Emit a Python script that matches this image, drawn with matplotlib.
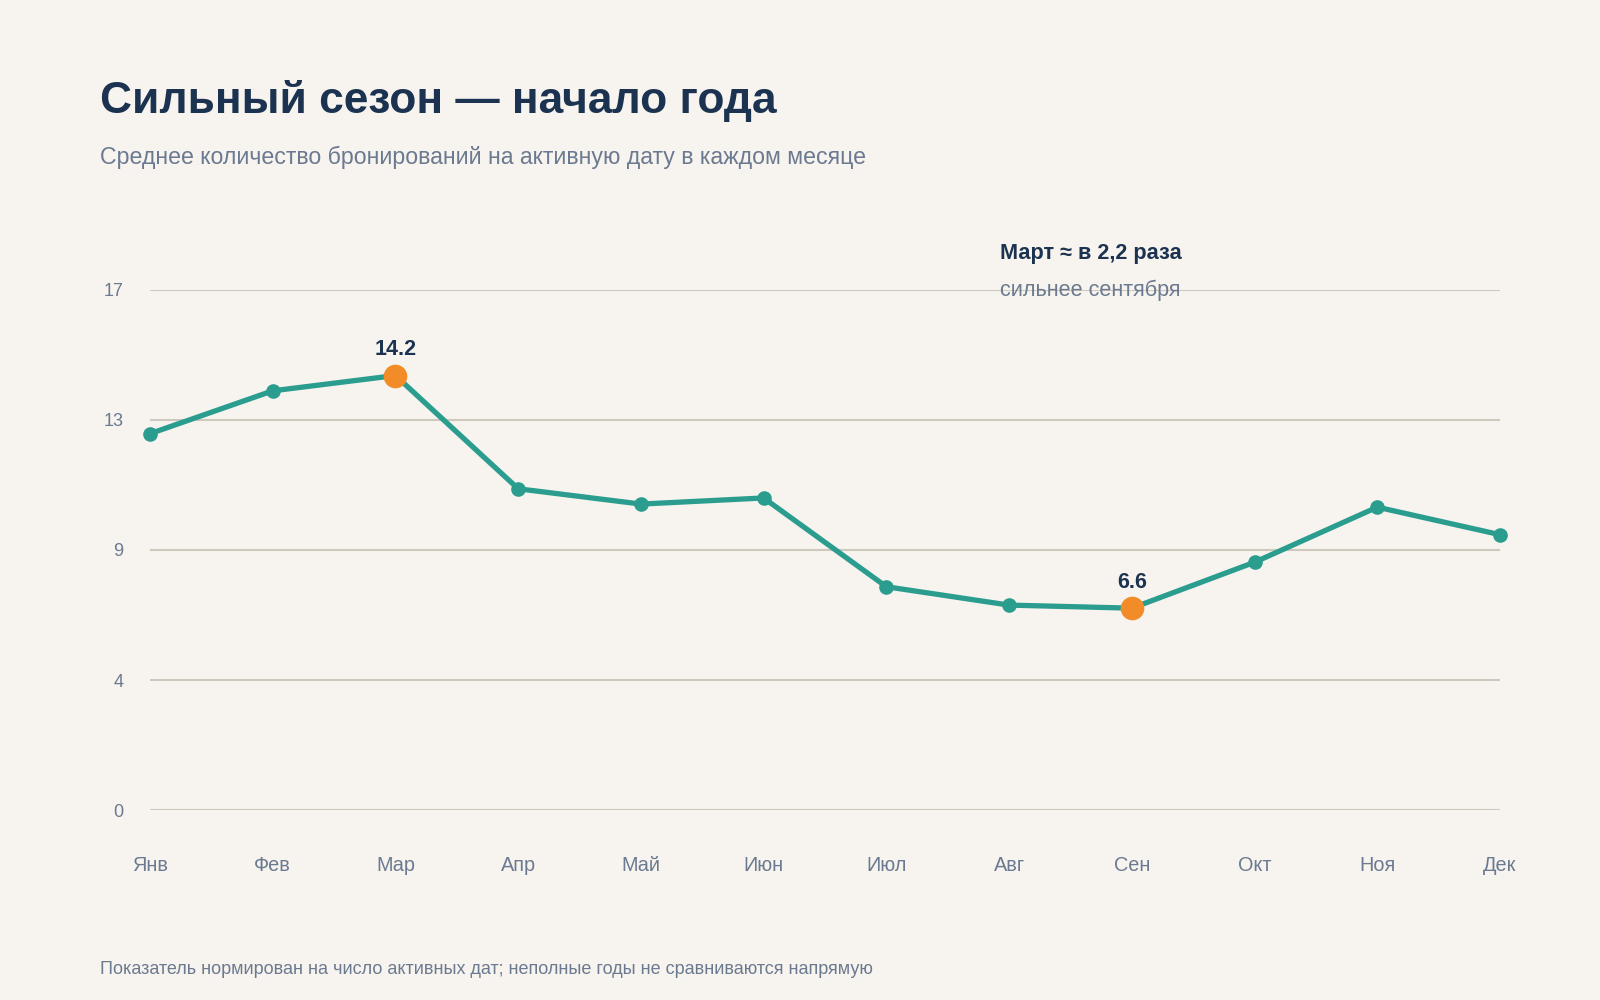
import matplotlib.pyplot as plt
import numpy as np

plt.rcParams['font.family'] = ['Liberation Sans', 'DejaVu Sans']

months = ["Янв", "Фев", "Мар", "Апр", "Май", "Июн", "Июл", "Авг", "Сен", "Окт", "Ноя", "Дек"]
bookings = [12.3, 13.7, 14.2, 10.5, 10.0, 10.2, 7.3, 6.7, 6.6, 8.1, 9.9, 9.0]
highlight = [2, 8]
y_max = 17
y_ticks = np.linspace(0, y_max, 5)

bg = "#F7F3EE"
navy = "#1B3350"
grey = "#6B7A90"
teal = "#2A9D8F"
orange = "#F28C28"

W, H = 1568, 980
fig = plt.figure(figsize=(16, 10), dpi=100, facecolor=bg)
ax = fig.add_axes([147 / W, (H - 794) / H, (1470 - 147) / W, (794 - 284) / H])
ax.set_facecolor(bg)

x = np.arange(len(months))
ax.plot(x, bookings, color=teal, lw=3.8, marker="o", ms=9.5, zorder=3, clip_on=False,
        solid_capstyle="round")
for i in highlight:
    ax.plot(x[i], bookings[i], "o", color=orange, ms=16, zorder=4, clip_on=False)
    ax.annotate(f"{bookings[i]:.1f}", (x[i], bookings[i]), xytext=(0, 11),
                textcoords="offset points", ha="center", va="bottom",
                fontsize=15.5, fontweight="bold", color=navy)

ax.set_xlim(0, len(months) - 1)
ax.set_ylim(0, y_max)
ax.set_yticks(y_ticks)
ax.set_yticklabels([f"{int(np.floor(v + 0.5))}" for v in y_ticks])
ax.set_xticks(x)
ax.set_xticklabels(months)
ax.grid(axis="y", color="#CFC8BF", lw=1.5)
ax.set_axisbelow(True)
for s in ax.spines.values():
    s.set_visible(False)
ax.tick_params(axis="y", length=0, pad=19, labelsize=13, labelcolor=grey)
ax.tick_params(axis="x", length=0, pad=33, labelsize=14.3, labelcolor=grey)

fig.text(98 / W, 1 - 99 / H, "Сильный сезон — начало года", fontsize=31.9, fontweight="bold",
         color=navy, va="center", ha="left")
fig.text(98 / W, 1 - 154 / H, "Среднее количество бронирований на активную дату в каждом месяце",
         fontsize=16.7, color=grey, va="center", ha="left")
fig.text(980 / W, 1 - 248 / H, "Март ≈ в 2,2 раза", fontsize=15.6, fontweight="bold",
         color=navy, va="center", ha="left")
fig.text(980 / W, 1 - 285 / H, "сильнее сентября", fontsize=15.6, color=grey,
         va="center", ha="left")
fig.text(98 / W, 1 - 950 / H,
         "Показатель нормирован на число активных дат; неполные годы не сравниваются напрямую",
         fontsize=13, color=grey, va="center", ha="left")

fig.savefig("out.png", dpi=100, facecolor=bg)
